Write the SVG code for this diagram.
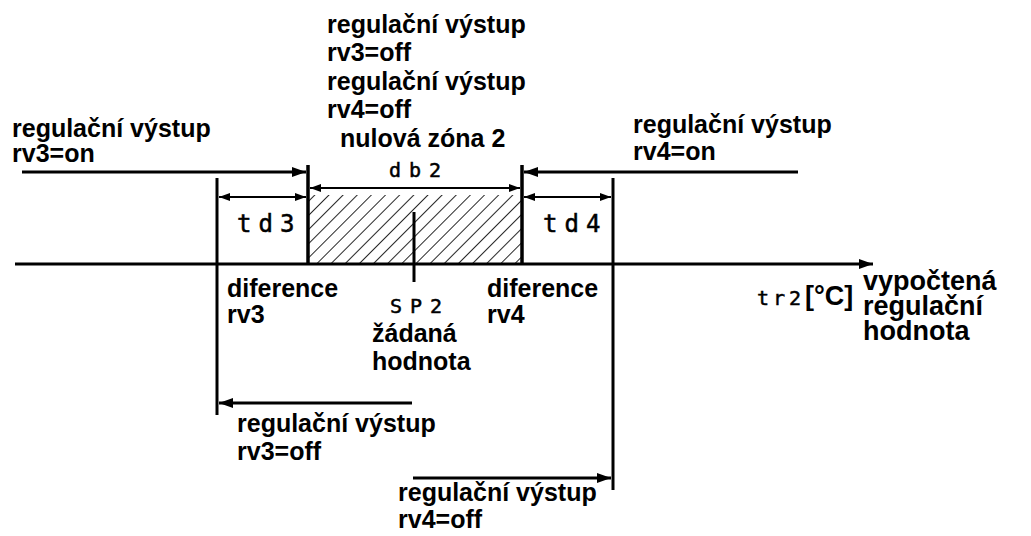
<svg xmlns="http://www.w3.org/2000/svg" width="1031" height="536" viewBox="0 0 1031 536">
<style>
.t{font-family:"Liberation Sans",Arial,sans-serif;font-weight:bold;font-size:25px;fill:#000}
.big{font-size:27px}
.seg{font-family:"DejaVu Sans Mono",monospace;font-weight:normal;fill:#000;stroke:#000;stroke-width:0.5}
.thick{stroke:#000;stroke-width:3.5;fill:none}
.med{stroke:#000;stroke-width:3;fill:none}
.thin{stroke:#000;stroke-width:2;fill:none}
</style>
<defs>
<marker id="ah" viewBox="0 0 14 10" refX="14" refY="5" markerWidth="14" markerHeight="10" markerUnits="userSpaceOnUse" orient="auto"><path d="M0,0 L14,5 L0,10 z" fill="#000"/></marker>
<marker id="as" viewBox="0 0 11 8" refX="11" refY="4" markerWidth="11" markerHeight="8" markerUnits="userSpaceOnUse" orient="auto-start-reverse"><path d="M0,0 L11,4 L0,8 z" fill="#000"/></marker>
<pattern id="hatch" width="10" height="10" patternUnits="userSpaceOnUse" patternTransform="rotate(45)"><line x1="0" y1="0" x2="0" y2="10" stroke="#000" stroke-width="1.7"/></pattern>
</defs>
<rect width="1031" height="536" fill="#fff"/>

<g id="deadband">
<rect x="309" y="195" width="212" height="69" fill="url(#hatch)"/>
</g>

<g id="connectors">
<line class="med" x1="15" y1="264" x2="873" y2="264" marker-end="url(#ah)"/>
<line class="med" x1="22" y1="172" x2="306" y2="172" marker-end="url(#ah)"/>
<line class="med" x1="798" y1="172" x2="524" y2="172" marker-end="url(#ah)"/>
<line class="med" x1="412" y1="403" x2="219" y2="403" marker-end="url(#ah)"/>
<line class="med" x1="413" y1="478" x2="611" y2="478" marker-end="url(#ah)"/>
<line class="thin" x1="310" y1="188" x2="520" y2="188" marker-start="url(#as)" marker-end="url(#as)"/>
<line class="thin" x1="219" y1="197" x2="306" y2="197" marker-start="url(#as)" marker-end="url(#as)"/>
<line class="thin" x1="524" y1="197" x2="611" y2="197" marker-start="url(#as)" marker-end="url(#as)"/>
<line class="med" x1="217" y1="178" x2="217" y2="415"/>
<line class="thick" x1="308" y1="165" x2="308" y2="265"/>
<line class="thick" x1="522" y1="165" x2="522" y2="265"/>
<line class="med" x1="613" y1="178" x2="613" y2="490"/>
<line class="med" x1="414" y1="212" x2="414" y2="282"/>
</g>

<g id="top-label">
<text class="t" x="327" y="33">regulační výstup</text>
<text class="t" x="327" y="61">rv3=off</text>
<text class="t" x="327" y="90">regulační výstup</text>
<text class="t" x="327" y="118">rv4=off</text>
<text class="t" x="340" y="147">nulová zóna 2</text>
<text class="seg" x="389" y="177" font-size="20" letter-spacing="8">db2</text>
</g>

<g id="rv3-on">
<text class="t" x="12" y="137">regulační výstup</text>
<text class="t" x="12" y="162">rv3=on</text>
</g>

<g id="rv4-on">
<text class="t" x="633" y="133">regulační výstup</text>
<text class="t" x="633" y="160">rv4=on</text>
</g>

<g id="td3">
<text class="seg" x="237" y="232" font-size="24" letter-spacing="7">td3</text>
</g>
<g id="td4">
<text class="seg" x="543" y="232" font-size="24" letter-spacing="7">td4</text>
</g>

<g id="dif-rv3">
<text class="t" x="227" y="297">diference</text>
<text class="t" x="227" y="323">rv3</text>
</g>

<g id="dif-rv4">
<text class="t" x="487" y="297">diference</text>
<text class="t" x="487" y="323">rv4</text>
</g>

<g id="setpoint">
<text class="seg" x="390" y="313" font-size="20" letter-spacing="8">SP2</text>
<text class="t" x="372" y="342">žádaná</text>
<text class="t" x="372" y="370">hodnota</text>
</g>

<g id="axis-label">
<text class="seg" x="757" y="305" font-size="20" letter-spacing="4">tr2</text>
<text class="t big" x="805" y="305">[°C]</text>
<text class="t big" x="863" y="290">vypočtená</text>
<text class="t big" x="863" y="315">regulační</text>
<text class="t big" x="863" y="340">hodnota</text>
</g>

<g id="rv3-off">
<text class="t" x="237" y="432">regulační výstup</text>
<text class="t" x="237" y="460">rv3=off</text>
</g>

<g id="rv4-off">
<text class="t" x="398" y="501">regulační výstup</text>
<text class="t" x="398" y="528">rv4=off</text>
</g>
</svg>
